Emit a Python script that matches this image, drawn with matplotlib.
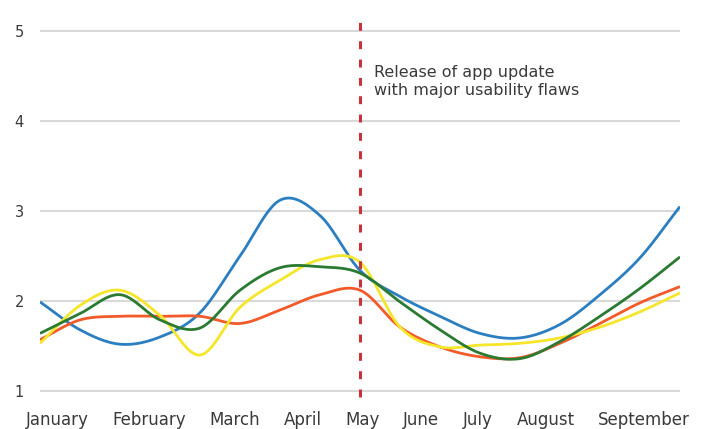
import matplotlib
matplotlib.use("Agg")
import matplotlib.pyplot as plt
import numpy as np

months = ["January", "February", "March", "April", "May",
          "June", "July", "August", "September"]

# values read at half-month steps (January .. September)
blue = [1.99, 1.68, 1.52, 1.60, 1.87, 2.50, 3.12, 2.95, 2.34,
        2.05, 1.83, 1.64, 1.59, 1.74, 2.07, 2.48, 3.05]
yellow = [1.53, 1.95, 2.12, 1.84, 1.40, 1.93, 2.23, 2.46, 2.43,
          1.71, 1.49, 1.51, 1.53, 1.59, 1.71, 1.88, 2.09]
green = [1.64, 1.86, 2.07, 1.79, 1.70, 2.12, 2.37, 2.38, 2.31,
         1.99, 1.68, 1.42, 1.36, 1.55, 1.83, 2.14, 2.49]
orange = [1.57, 1.79, 1.83, 1.83, 1.83, 1.75, 1.90, 2.07, 2.12,
          1.71, 1.49, 1.38, 1.37, 1.53, 1.75, 1.98, 2.16]

release_month = "May"
note = "Release of app update\nwith major usability flaws"

TXT = "#3a3a3a"


def smooth(y, n=24):
    # uniform Catmull-Rom through the points
    y = np.asarray(y, dtype=float)
    x = np.arange(len(y)) * 0.5
    p = np.concatenate([[2 * y[0] - y[1]], y, [2 * y[-1] - y[-2]]])
    t = np.linspace(0, 1, n, endpoint=False)
    xs, ys = [], []
    for i in range(len(y) - 1):
        p0, p1, p2, p3 = p[i], p[i + 1], p[i + 2], p[i + 3]
        seg = 0.5 * ((2 * p1) + (-p0 + p2) * t
                     + (2 * p0 - 5 * p1 + 4 * p2 - p3) * t ** 2
                     + (-p0 + 3 * p1 - 3 * p2 + p3) * t ** 3)
        xs.append(x[i] + t * 0.5)
        ys.append(seg)
    xs.append([x[-1]])
    ys.append([y[-1]])
    return np.concatenate(xs), np.concatenate(ys)


W, H = 704, 429
fig = plt.figure(figsize=(W / 100, H / 100), dpi=100)
ax = fig.add_axes([40 / W, (H - 400) / H, 640 / W, 387 / H])
ax.set_xlim(0, 8)
ax.set_ylim(0.9, 5.2)

for s in ax.spines.values():
    s.set_visible(False)

ax.set_yticks([1, 2, 3, 4, 5])
ax.yaxis.grid(True, color="#d9d9d9", linewidth=1.5)
ax.set_axisbelow(True)
ax.tick_params(axis="y", length=0, pad=11.5, labelsize=10.5, labelcolor=TXT)
ax.set_xticks([])

for vals, col in [(blue, "#2b7fc0"), (orange, "#f25a2a"),
                  (yellow, "#f5e62a"), (green, "#2a7a32")]:
    xs, ys = smooth(vals)
    ax.plot(xs, ys, color=col, linewidth=2.0, solid_capstyle="butt")

mx = months.index(release_month)
ax.plot([mx, mx], [0.93, 5.18], color="#c8323a", linewidth=2.2,
        dashes=(2.6, 3.4), zorder=5)
ax.text(mx + 0.18, 4.44, note, fontsize=11.5, color=TXT,
        va="center", ha="left", linespacing=1.2)

# month labels spread from edge to edge with equal gaps
fig.canvas.draw()
r = fig.canvas.get_renderer()
labels = [fig.text(0, 4 / H, m, fontsize=12, color=TXT,
                   ha="center", va="baseline") for m in months]
widths = [t.get_window_extent(r).width for t in labels]
left_px, right_px = 26, 690
gap = (right_px - left_px - sum(widths)) / (len(months) - 1)
pos = left_px
for t, w in zip(labels, widths):
    t.set_x((pos + w / 2) / W)
    pos += w + gap

fig.savefig("out.png", dpi=100)
